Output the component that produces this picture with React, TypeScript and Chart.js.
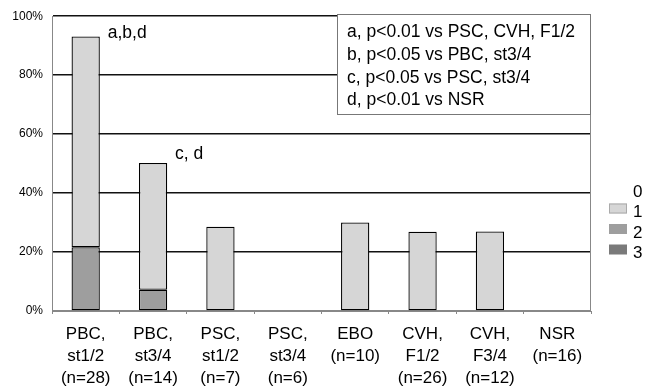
import React, { useEffect, useRef } from "react";
import { Chart, registerables } from "chart.js";

Chart.register(...registerables);

const categories: string[][] = [
  ["PBC,", "st1/2", "(n=28)"],
  ["PBC,", "st3/4", "(n=14)"],
  ["PSC,", "st1/2", "(n=7)"],
  ["PSC,", "st3/4", "(n=6)"],
  ["EBO", "(n=10)"],
  ["CVH,", "F1/2", "(n=26)"],
  ["CVH,", "F3/4", "(n=12)"],
  ["NSR", "(n=16)"],
];

const series0 = [0, 0, 0, 0, 0, 0, 0, 0];
const series1 = [71.5, 43.0, 28.6, 0, 30.0, 26.9, 27.0, 0];
const series2 = [21.6, 7.2, 0, 0, 0, 0, 0, 0];
const series3 = [0, 0, 0, 0, 0, 0, 0, 0];

const legendLabels = ["0", "1", "2", "3"];
const legendColors = ["#ffffff", "#d6d6d6", "#9e9e9e", "#7a7a7a"];

const yTicks = [0, 20, 40, 60, 80, 100];

const noteLines = [
  "a, p<0.01 vs PSC, CVH, F1/2",
  "b, p<0.05 vs PBC, st3/4",
  "c, p<0.05 vs PSC, st3/4",
  "d, p<0.01 vs NSR",
];
const barNotes = [
  { index: 0, text: "a,b,d" },
  { index: 1, text: "c, d" },
];

const FONT = "'Liberation Sans', Arial, sans-serif";

const overlayPlugin = {
  id: "overlay",
  afterDraw(chart: any) {
    const ctx = chart.ctx;
    const area = chart.chartArea;
    const xs = chart.scales.x;
    const ys = chart.scales.y;
    ctx.save();
    // right border
    ctx.strokeStyle = "#888";
    ctx.lineWidth = 1;
    ctx.beginPath();
    ctx.moveTo(area.right - 0.5, area.top);
    ctx.lineTo(area.right - 0.5, area.bottom);
    ctx.stroke();

    // bar notes
    ctx.fillStyle = "#000";
    ctx.font = `17.5px ${FONT}`;
    ctx.textBaseline = "middle";
    ctx.textAlign = "left";
    barNotes.forEach((n) => {
      const total = series0[n.index] + series1[n.index] + series2[n.index] + series3[n.index];
      const x = xs.getPixelForValue(n.index) + 22;
      const y = ys.getPixelForValue(total) - 3 - (n.index === 1 ? 6 : 0);
      ctx.fillText(n.text, x, y);
    });

    // note box
    const bx = 337.5, by = 14.5, bw = 253, bh = 100;
    ctx.fillStyle = "#fff";
    ctx.fillRect(bx, by, bw, bh);
    ctx.strokeStyle = "#777";
    ctx.lineWidth = 1;
    ctx.strokeRect(bx, by, bw, bh);
    ctx.fillStyle = "#000";
    noteLines.forEach((t, i) => {
      ctx.fillText(t, 347, 32.5 + i * 22.6);
    });

    // legend
    ctx.font = `17px ${FONT}`;
    legendLabels.forEach((l, i) => {
      const cy = 192 + i * 20.5;
      if (i > 0) {
        ctx.fillStyle = legendColors[i];
        ctx.fillRect(609, cy - 9, 18, 10);
        if (i === 1) {
          ctx.strokeStyle = "#aaa";
          ctx.strokeRect(609.5, cy - 8.5, 17, 9);
        }
      }
      ctx.fillStyle = "#000";
      ctx.fillText(l, 633, cy);
    });
    ctx.restore();
  },
};

export default function App() {
  const ref = useRef<HTMLCanvasElement>(null);
  useEffect(() => {
    document.body.style.margin = "0";
    const mk = (label: string, data: number[], color: string) => ({
      label,
      data,
      backgroundColor: color,
      borderColor: "#000",
      borderWidth: (c: any) => (c.raw > 0 ? 1.3 : 0),
      borderSkipped: false,
      categoryPercentage: 1,
      barPercentage: 0.42,
    });
    const chart = new Chart(ref.current!, {
      type: "bar",
      data: {
        labels: categories,
        datasets: [
          mk("3", series3, legendColors[3]),
          mk("2", series2, legendColors[2]),
          mk("1", series1, legendColors[1]),
          mk("0", series0, legendColors[0]),
        ],
      },
      options: {
        responsive: false,
        animation: false,
        layout: { padding: { top: 16, right: 65, left: 0, bottom: 0 } },
        plugins: { legend: { display: false }, tooltip: { enabled: false } },
        scales: {
          x: {
            stacked: true,
            grid: {
              display: true,
              drawOnChartArea: false,
              tickLength: 3,
              color: "#888",
              offset: true,
            },
            border: { color: "#888", width: 1 },
            ticks: {
              color: "#000",
              font: { family: FONT, size: 17, lineHeight: 22 / 17 },
              padding: 9,
              maxRotation: 0,
              autoSkip: false,
            },
            afterFit: (s: any) => {
              s.height = 75;
            },
          },
          y: {
            stacked: true,
            min: 0,
            max: 100,
            afterBuildTicks: (s: any) => {
              s.ticks = yTicks.map((v) => ({ value: v }));
            },
            grid: {
              drawTicks: false,
              color: (c: any) => (c.tick && c.tick.value === 0 ? "#888" : "#111"),
              lineWidth: 1.6,
            },
            border: { color: "#888", width: 1 },
            ticks: {
              color: "#000",
              font: { family: FONT, size: 12 },
              padding: 9,
              callback: (v: any) => `${v}%`,
            },
            afterFit: (s: any) => {
              s.width = 52;
            },
          },
        },
      },
      plugins: [overlayPlugin],
    });
    return () => chart.destroy();
  }, []);
  return <canvas ref={ref} width={656} height={386} style={{ display: "block" }} />;
}
